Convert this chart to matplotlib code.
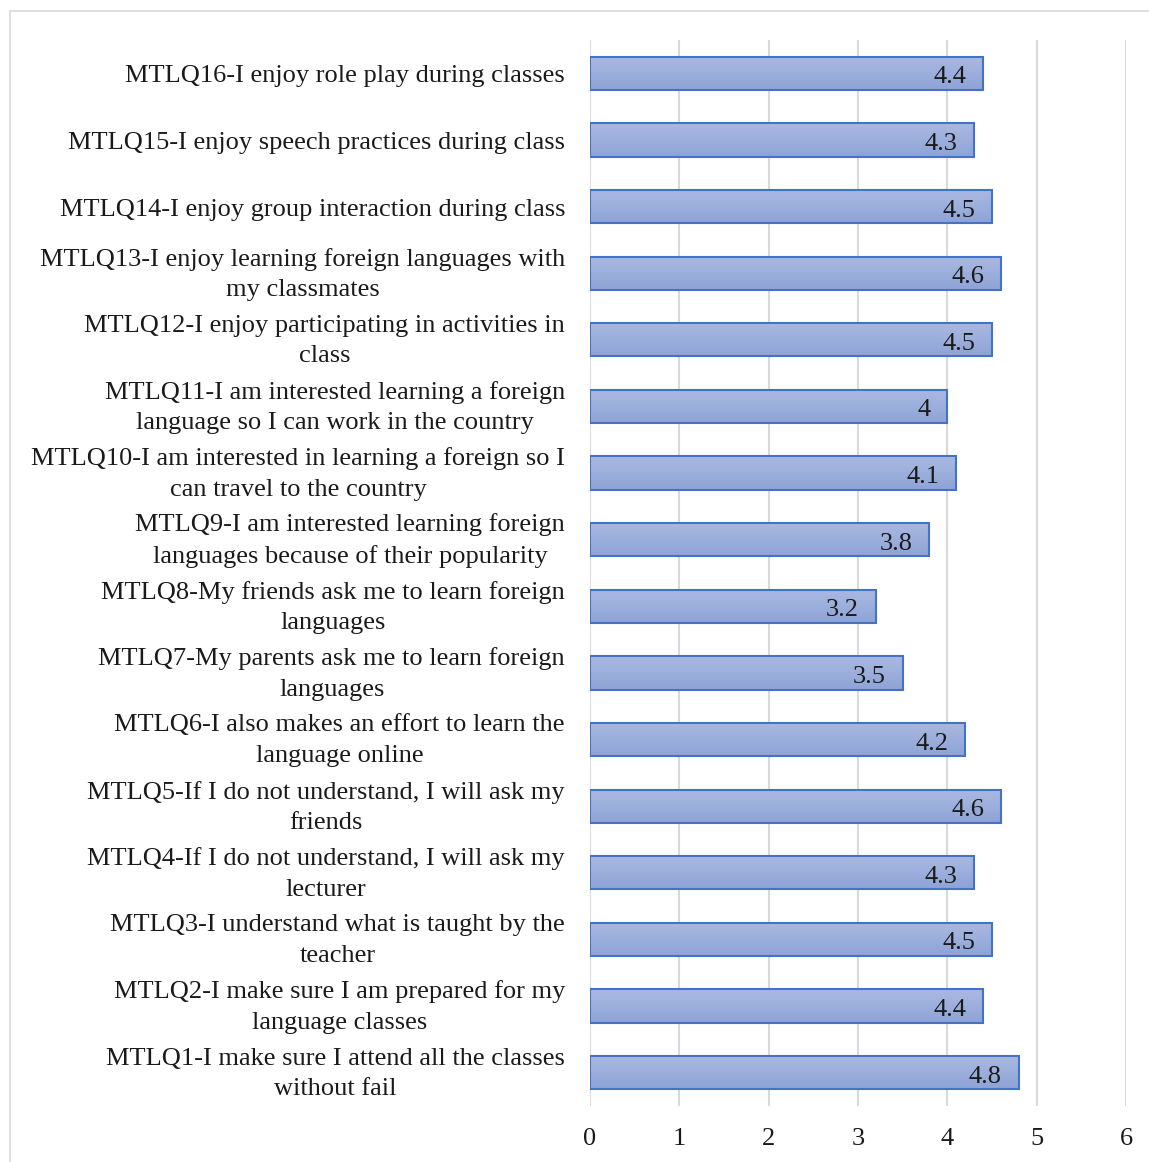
import numpy as np
import matplotlib
matplotlib.use("Agg")
import matplotlib.pyplot as plt
from matplotlib.patches import Rectangle

plt.rcParams['font.family'] = ['Liberation Serif', 'DejaVu Serif']

# items listed from Q1 (bottom) to Q16 (top)
labels = [
    "MTLQ1-I make sure I attend all the classes\nwithout fail",
    "MTLQ2-I make sure I am prepared for my\nlanguage classes",
    "MTLQ3-I understand what is taught by the\nteacher",
    "MTLQ4-If I do not understand, I will ask my\nlecturer",
    "MTLQ5-If I do not understand, I will ask my\nfriends",
    "MTLQ6-I also makes an effort to learn the\nlanguage online",
    "MTLQ7-My parents ask me to learn foreign\nlanguages",
    "MTLQ8-My friends ask me to learn foreign\nlanguages",
    "MTLQ9-I am interested learning foreign\nlanguages because of their popularity",
    "MTLQ10-I am interested in learning a foreign so I\ncan travel to the country",
    "MTLQ11-I am interested learning a foreign\nlanguage so I can work in the country",
    "MTLQ12-I enjoy participating in activities in\nclass",
    "MTLQ13-I enjoy learning foreign languages with\nmy classmates",
    "MTLQ14-I enjoy group interaction during class",
    "MTLQ15-I enjoy speech practices during class",
    "MTLQ16-I enjoy role play during classes",
]
means = [4.8, 4.4, 4.5, 4.3, 4.6, 4.2, 3.5, 3.2, 3.8, 4.1, 4, 4.5, 4.6, 4.5, 4.3, 4.4]
value_text = ["4.8", "4.4", "4.5", "4.3", "4.6", "4.2", "3.5", "3.2", "3.8", "4.1", "4", "4.5", "4.6", "4.5", "4.3", "4.4"]
xticks = [0, 1, 2, 3, 4, 5, 6]

fs = 19

fig = plt.figure(figsize=(11.49, 11.62), dpi=100)
ax = fig.add_axes([590 / 1149, 1 - 1106 / 1162, 536 / 1149, 1066 / 1162])

# outer chart frame
fig.patches.append(Rectangle((10 / 1149, -0.05), 1.2, 1 - 11 / 1162 + 0.05,
                             transform=fig.transFigure, fill=False,
                             edgecolor='#d9d9d9', linewidth=1.2, zorder=0))

y = np.arange(len(means))
bars = ax.barh(y, means, height=0.5, color='none', edgecolor='#4472c4',
               linewidth=1.5, zorder=3)

# vertical gradient fill, lighter at the top
grad = np.linspace(0, 1, 64).reshape(-1, 1)
cmap = matplotlib.colors.LinearSegmentedColormap.from_list(
    'g', ['#aab9e1', '#8ea4d7'])
for b in bars:
    x0, y0, w, h = b.get_x(), b.get_y(), b.get_width(), b.get_height()
    im = ax.imshow(grad, extent=(x0, x0 + w, y0, y0 + h), cmap=cmap,
                   aspect='auto', zorder=2, origin='upper')
    im.set_clip_path(b)

for yi, v, t in zip(y, means, value_text):
    ax.text(v - 0.19, yi - 0.06, t, ha='right', va='center', fontsize=fs,
            color='#1a1a1a', zorder=4)

# category labels, drawn as annotations so two-line ones can be nudged
for yi, t in zip(y, labels):
    dy = -0.8 if "\n" in t else -2.2
    ax.annotate(t, xy=(0, yi), xycoords=('axes fraction', 'data'),
                xytext=(-18, dy), textcoords='offset points',
                ha='right', va='center', multialignment='center',
                fontsize=fs, linespacing=1.5, color='#1a1a1a',
                annotation_clip=False)

ax.set_xlim(0, 6)
ax.set_ylim(-0.5, len(means) - 0.5)
ax.set_xticks(xticks)
ax.set_xticklabels([str(t) for t in xticks], fontsize=fs)
ax.set_yticks(y)
ax.set_yticklabels([])
ax.tick_params(axis='both', length=0, colors='#1a1a1a')
ax.tick_params(axis='x', pad=16)
ax.grid(axis='x', color='#d9d9d9', linewidth=1.5, zorder=0)
ax.grid(axis='y', visible=False)
ax.set_axisbelow(True)
for s in ax.spines.values():
    s.set_visible(False)

fig.savefig('out.png', dpi=100)
